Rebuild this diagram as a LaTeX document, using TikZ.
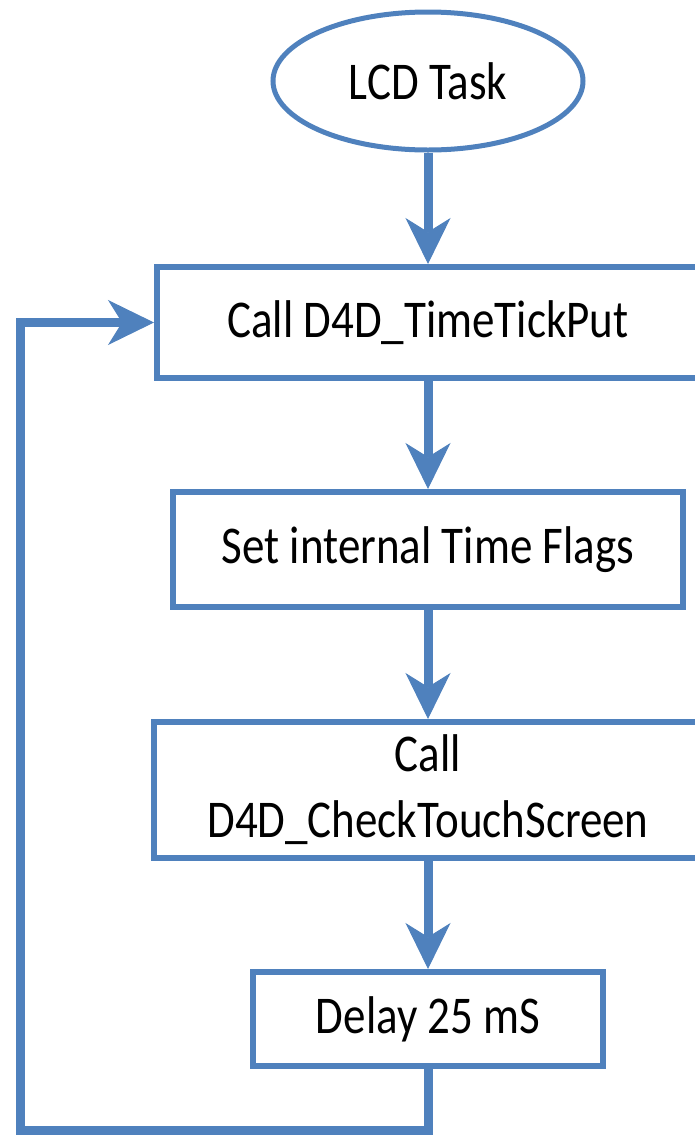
\documentclass[tikz,border=0pt]{standalone}
\usepackage{fontspec}
\setmainfont{Carlito}
\usepackage{tikz}
\usetikzlibrary{arrows.meta, shapes, positioning, calc}
\definecolor{myblue}{RGB}{79,129,189}
\newcommand{\tall}[1]{\scalebox{1}[1.18]{#1}}
\tikzset{
   mybox/.style={draw=myblue, line width=6pt, fill=white, align=center, inner sep=0pt},
   myell/.style={ellipse, draw=myblue, line width=5pt, fill=white, inner sep=0pt},
   myarrow/.style={draw=myblue, line width=9pt, line join=miter,
      -{Stealth[length=46pt, width=45pt, inset=14pt, line width=1pt]}}
}

\begin{document}
\begin{tikzpicture}[x=1pt, y=-1pt, every node/.style={font=\fontsize{45}{66}\selectfont}]
      \useasboundingbox (0,0) rectangle (694,1136);
      \node[myell, minimum width=310pt, minimum height=138pt] (start) at (428,81) {\tall{LCD Task}};
      \node[mybox, minimum width=542pt, minimum height=111pt] (tick) at (428,322.5) {\tall{Call D4D\_TimeTickPut}};
      \node[mybox, minimum width=510pt, minimum height=115pt] (flags) at (428,549.5) {\tall{Set internal Time Flags}};
      \node[mybox, minimum width=548pt, minimum height=136pt] (touch) at (428,790) {\tall{Call}\\\tall{D4D\_CheckTouchScreen}};
      \node[mybox, minimum width=350pt, minimum height=94pt] (delay) at (428,1019) {\tall{Delay 25 mS}};
      \coordinate (loopcorner) at (20,1130);
      \draw[myarrow] (start.south) -- (tick.north);
      \draw[myarrow] (tick.south) -- (flags.north);
      \draw[myarrow] (flags.south) -- (touch.north);
      \draw[myarrow] (touch.south) -- (delay.north);
      \draw[myarrow] (delay.south) |- (loopcorner) |- (tick.west);
\end{tikzpicture}
\end{document}
